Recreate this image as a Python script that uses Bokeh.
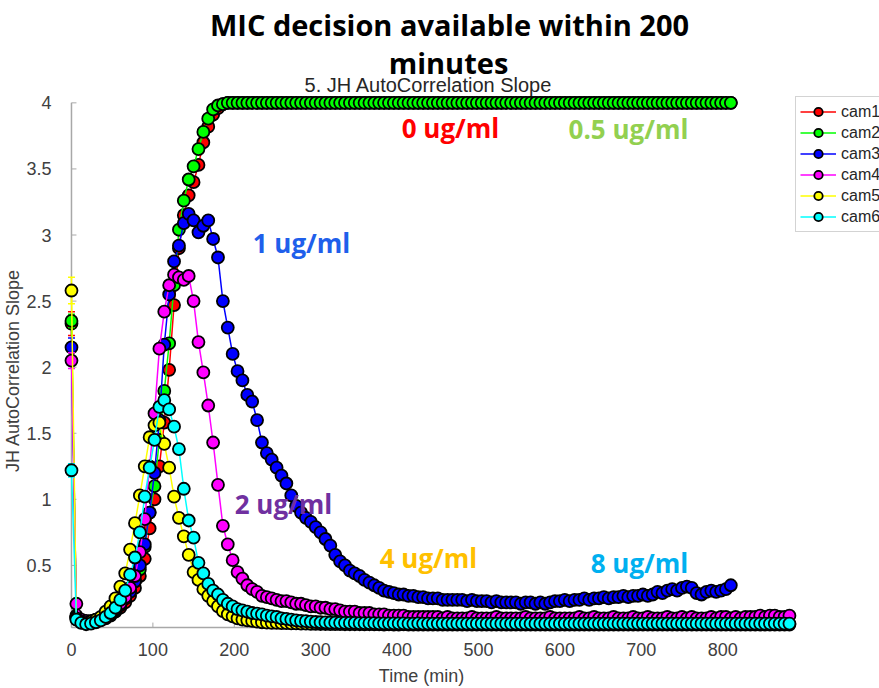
from bokeh.plotting import figure
from bokeh.models import Range1d, Label, Legend, LegendItem, FixedTicker, CustomJSTickFormatter
from bokeh.embed import file_html
from bokeh.resources import INLINE

# ---------------- data ----------------
# sampling times in minutes
time_cam123 = list(range(0, 811, 6))
time_cam456 = list(range(0, 883, 6))

cam1 = [2.33, 0.11, 0.08, 0.07, 0.07, 0.08, 0.09, 0.10, 0.12, 0.15,
        0.18, 0.22, 0.27, 0.33, 0.42, 0.55, 0.78, 1.00, 1.25, 1.58,
        1.98, 2.47, 2.90, 3.15, 3.30, 3.40, 3.53, 3.70, 3.82, 3.91,
        3.96, 3.99, 4.00, 4.00, 4.00, 4.00, 4.00, 4.00, 4.00, 4.00,
        4.00, 4.00, 4.00, 4.00, 4.00, 4.00, 4.00, 4.00, 4.00, 4.00,
        4.00, 4.00, 4.00, 4.00, 4.00, 4.00, 4.00, 4.00, 4.00, 4.00,
        4.00, 4.00, 4.00, 4.00, 4.00, 4.00, 4.00, 4.00, 4.00, 4.00,
        4.00, 4.00, 4.00, 4.00, 4.00, 4.00, 4.00, 4.00, 4.00, 4.00,
        4.00, 4.00, 4.00, 4.00, 4.00, 4.00, 4.00, 4.00, 4.00, 4.00,
        4.00, 4.00, 4.00, 4.00, 4.00, 4.00, 4.00, 4.00, 4.00, 4.00,
        4.00, 4.00, 4.00, 4.00, 4.00, 4.00, 4.00, 4.00, 4.00, 4.00,
        4.00, 4.00, 4.00, 4.00, 4.00, 4.00, 4.00, 4.00, 4.00, 4.00,
        4.00, 4.00, 4.00, 4.00, 4.00, 4.00, 4.00, 4.00, 4.00, 4.00,
        4.00, 4.00, 4.00, 4.00, 4.00, 4.00]

cam2 = [2.35, 0.12, 0.08, 0.07, 0.07, 0.08, 0.09, 0.11, 0.13, 0.16,
        0.20, 0.25, 0.31, 0.38, 0.47, 0.64, 0.90, 1.10, 1.45, 1.82,
        2.18, 2.62, 3.04, 3.26, 3.42, 3.52, 3.65, 3.78, 3.88, 3.95,
        3.98, 3.99, 4.00, 4.00, 4.00, 4.00, 4.00, 4.00, 4.00, 4.00,
        4.00, 4.00, 4.00, 4.00, 4.00, 4.00, 4.00, 4.00, 4.00, 4.00,
        4.00, 4.00, 4.00, 4.00, 4.00, 4.00, 4.00, 4.00, 4.00, 4.00,
        4.00, 4.00, 4.00, 4.00, 4.00, 4.00, 4.00, 4.00, 4.00, 4.00,
        4.00, 4.00, 4.00, 4.00, 4.00, 4.00, 4.00, 4.00, 4.00, 4.00,
        4.00, 4.00, 4.00, 4.00, 4.00, 4.00, 4.00, 4.00, 4.00, 4.00,
        4.00, 4.00, 4.00, 4.00, 4.00, 4.00, 4.00, 4.00, 4.00, 4.00,
        4.00, 4.00, 4.00, 4.00, 4.00, 4.00, 4.00, 4.00, 4.00, 4.00,
        4.00, 4.00, 4.00, 4.00, 4.00, 4.00, 4.00, 4.00, 4.00, 4.00,
        4.00, 4.00, 4.00, 4.00, 4.00, 4.00, 4.00, 4.00, 4.00, 4.00,
        4.00, 4.00, 4.00, 4.00, 4.00, 4.00]

cam3 = [2.15, 0.11, 0.08, 0.07, 0.07, 0.08, 0.09, 0.11, 0.13, 0.16,
        0.20, 0.25, 0.30, 0.38, 0.50, 0.66, 0.90, 1.20, 1.60, 2.17,
        2.55, 2.80, 2.92, 3.09, 3.16, 3.11, 3.02, 3.07, 3.11, 2.97,
        2.83, 2.50, 2.30, 2.10, 1.97, 1.90, 1.79, 1.74, 1.60, 1.43,
        1.35, 1.30, 1.24, 1.18, 1.12, 1.03, 0.95, 0.90, 0.86, 0.83,
        0.79, 0.75, 0.70, 0.65, 0.58, 0.53, 0.50, 0.46, 0.44, 0.42,
        0.39, 0.37, 0.35, 0.33, 0.31, 0.30, 0.29, 0.28, 0.28, 0.27,
        0.27, 0.26, 0.26, 0.25, 0.25, 0.25, 0.24, 0.24, 0.24, 0.24,
        0.24, 0.23, 0.24, 0.23, 0.23, 0.23, 0.22, 0.23, 0.22, 0.22,
        0.22, 0.22, 0.21, 0.22, 0.22, 0.21, 0.22, 0.21, 0.22, 0.23,
        0.23, 0.24, 0.23, 0.24, 0.24, 0.25, 0.24, 0.25, 0.25, 0.26,
        0.25, 0.26, 0.26, 0.27, 0.26, 0.27, 0.27, 0.28, 0.27, 0.28,
        0.30, 0.29, 0.31, 0.32, 0.31, 0.33, 0.34, 0.33, 0.29, 0.28,
        0.30, 0.31, 0.30, 0.31, 0.32, 0.35]

cam4 = [2.05, 0.21, 0.09, 0.08, 0.08, 0.09, 0.10, 0.12, 0.14, 0.17,
        0.21, 0.26, 0.33, 0.42, 0.60, 0.85, 1.25, 1.65, 2.14, 2.42,
        2.62, 2.70, 2.68, 2.66, 2.69, 2.50, 2.19, 1.96, 1.71, 1.43,
        1.11, 0.80, 0.66, 0.54, 0.45, 0.40, 0.35, 0.32, 0.30, 0.27,
        0.26, 0.25, 0.24, 0.23, 0.23, 0.22, 0.21, 0.21, 0.20, 0.19,
        0.19, 0.18, 0.18, 0.17, 0.17, 0.16, 0.15, 0.15, 0.15, 0.14,
        0.14, 0.14, 0.13, 0.13, 0.13, 0.12, 0.12, 0.12, 0.12, 0.11,
        0.11, 0.11, 0.11, 0.11, 0.11, 0.11, 0.10, 0.11, 0.10, 0.10,
        0.10, 0.10, 0.11, 0.10, 0.10, 0.10, 0.10, 0.11, 0.10, 0.10,
        0.10, 0.10, 0.10, 0.11, 0.10, 0.10, 0.10, 0.10, 0.11, 0.10,
        0.10, 0.10, 0.10, 0.10, 0.11, 0.10, 0.10, 0.11, 0.10, 0.10,
        0.10, 0.11, 0.10, 0.10, 0.10, 0.11, 0.10, 0.10, 0.11, 0.10,
        0.10, 0.10, 0.11, 0.10, 0.10, 0.11, 0.10, 0.11, 0.10, 0.10,
        0.10, 0.11, 0.10, 0.11, 0.11, 0.10, 0.11, 0.10, 0.11, 0.11,
        0.11, 0.12, 0.11, 0.12, 0.12, 0.11, 0.11, 0.12]

cam5 = [2.58, 0.10, 0.07, 0.065, 0.075, 0.09, 0.11, 0.15, 0.19, 0.25,
        0.34, 0.44, 0.62, 0.82, 1.03, 1.25, 1.47, 1.56, 1.58, 1.42,
        1.24, 1.02, 0.86, 0.72, 0.58, 0.45, 0.39, 0.32, 0.27, 0.23,
        0.19, 0.155, 0.13, 0.115, 0.10, 0.09, 0.085, 0.08, 0.075, 0.07,
        0.068, 0.066, 0.065, 0.064, 0.063, 0.062, 0.061, 0.060, 0.059, 0.058,
        0.058, 0.057, 0.057, 0.056, 0.056, 0.056, 0.055, 0.055, 0.055, 0.055,
        0.054, 0.055, 0.054, 0.054, 0.053, 0.054, 0.053, 0.053, 0.054, 0.053,
        0.053, 0.053, 0.052, 0.053, 0.053, 0.052, 0.053, 0.052, 0.052, 0.053,
        0.052, 0.052, 0.053, 0.052, 0.052, 0.052, 0.053, 0.052, 0.052, 0.052,
        0.052, 0.053, 0.052, 0.052, 0.052, 0.052, 0.053, 0.052, 0.052, 0.052,
        0.052, 0.052, 0.053, 0.052, 0.052, 0.052, 0.052, 0.053, 0.052, 0.052,
        0.052, 0.052, 0.052, 0.053, 0.052, 0.052, 0.052, 0.052, 0.053, 0.052,
        0.052, 0.053, 0.052, 0.052, 0.052, 0.053, 0.052, 0.052, 0.052, 0.053,
        0.052, 0.052, 0.053, 0.052, 0.052, 0.053, 0.052, 0.052, 0.053, 0.052,
        0.053, 0.052, 0.052, 0.053, 0.052, 0.053, 0.052, 0.053]

cam6 = [1.22, 0.09, 0.065, 0.055, 0.06, 0.07, 0.085, 0.11, 0.14, 0.18,
        0.24, 0.31, 0.43, 0.56, 0.75, 1.02, 1.24, 1.45, 1.70, 1.75,
        1.68, 1.55, 1.38, 1.08, 0.84, 0.71, 0.52, 0.44, 0.36, 0.31,
        0.28, 0.24, 0.21, 0.19, 0.17, 0.16, 0.15, 0.14, 0.135, 0.13,
        0.12, 0.115, 0.11, 0.10, 0.095, 0.09, 0.085, 0.08, 0.078, 0.075,
        0.072, 0.070, 0.069, 0.068, 0.067, 0.066, 0.066, 0.065, 0.065, 0.064,
        0.064, 0.063, 0.063, 0.062, 0.062, 0.062, 0.061, 0.061, 0.061, 0.060,
        0.060, 0.061, 0.060, 0.060, 0.059, 0.060, 0.060, 0.059, 0.060, 0.059,
        0.059, 0.060, 0.059, 0.059, 0.060, 0.059, 0.059, 0.059, 0.060, 0.059,
        0.059, 0.059, 0.060, 0.059, 0.059, 0.059, 0.059, 0.060, 0.059, 0.059,
        0.059, 0.060, 0.059, 0.059, 0.059, 0.060, 0.059, 0.059, 0.059, 0.060,
        0.059, 0.059, 0.059, 0.060, 0.059, 0.059, 0.060, 0.059, 0.059, 0.059,
        0.060, 0.059, 0.059, 0.060, 0.059, 0.059, 0.059, 0.060, 0.059, 0.059,
        0.059, 0.060, 0.059, 0.059, 0.060, 0.059, 0.059, 0.060, 0.059, 0.059,
        0.059, 0.060, 0.059, 0.060, 0.060, 0.059, 0.060, 0.060]

# error of the first sample (the only visible error bars)
first_err = [0.09, 0.05, 0.07, 0.06, 0.10, 0.05]

series_names = ["cam1", "cam2", "cam3", "cam4", "cam5", "cam6"]
series_values = [cam1, cam2, cam3, cam4, cam5, cam6]
series_times = [time_cam123, time_cam123, time_cam123, time_cam456, time_cam456, time_cam456]
series_colors = ["#ff0000", "#00ff00", "#0000ff", "#ff00ff", "#ffff00", "#00ffff"]

x_ticks = [0, 100, 200, 300, 400, 500, 600, 700, 800]
y_ticks = [0.5, 1, 1.5, 2, 2.5, 3, 3.5, 4]
x_limits = (0, 885)      # extent of the MATLAB axes
y_limits = (0.03, 4.0)

for tt, vv in zip(series_times, series_values):
    assert len(tt) == len(vv), (len(tt), len(vv))

# ---------------- layout constants (pixels) ----------------
W, H = 879, 688
left_b, bottom_b = 61, 49           # room for tick labels / axis titles
pad_px = 8                          # frame reaches a little beyond the axes so markers are not clipped
px_per_min = 0.816
px_per_unit = 133.0
x_start = x_limits[0] - pad_px / px_per_min
x_end = x_start + (W - left_b) / px_per_min
y_start = y_limits[0] - pad_px / px_per_unit
y_end = y_start + (H - bottom_b) / px_per_unit
tick_len_x = 5 / px_per_min
tick_len_y = 5 / px_per_unit

p = figure(width=W, height=H, output_backend="svg", toolbar_location=None, title=None,
           x_range=Range1d(x_start, x_end), y_range=Range1d(y_start, y_end),
           min_border_left=left_b, min_border_right=0, min_border_top=0,
           min_border_bottom=bottom_b,
           background_fill_color="white", border_fill_color="white")
p.outline_line_color = None
p.xgrid.visible = False
p.ygrid.visible = False

axis_col = "#a8a8a8"
txt_col = "#404040"
fmt = CustomJSTickFormatter(code="return tick.toString();")
p.xaxis.ticker = FixedTicker(ticks=x_ticks)
p.yaxis.ticker = FixedTicker(ticks=y_ticks)
nb = "\u00a0"
for ax in (p.xaxis[0], p.yaxis[0]):
    ax.formatter = fmt
    ax.axis_line_color = None
    ax.major_tick_line_color = None
    ax.minor_tick_line_color = None
    ax.major_label_text_font = "Liberation Sans"
    ax.major_label_text_font_size = "18px"
    ax.major_label_text_color = txt_col
    ax.axis_label_text_font = "Liberation Sans"
    ax.axis_label_text_font_size = "18px"
    ax.axis_label_text_font_style = "normal"
    ax.axis_label_text_color = txt_col
p.xaxis.major_label_standoff = 1
p.yaxis.major_label_standoff = 6
# trailing no-break spaces centre the titles on the MATLAB axes instead of the whole frame
p.xaxis.axis_label = "Time (min)" + nb * 20
p.xaxis.axis_label_standoff = 7
p.yaxis.axis_label = "JH AutoCorrelation Slope" + nb * 21
p.yaxis.axis_label_standoff = 0

# axis lines and inward ticks over the MATLAB axes extent
p.segment(x0=[x_limits[0]], y0=[y_limits[0]], x1=[x_limits[0]], y1=[y_limits[1]],
          line_color=axis_col, line_width=1.5)
p.segment(x0=[x_limits[0]], y0=[y_limits[0]], x1=[x_limits[1]], y1=[y_limits[0]],
          line_color=axis_col, line_width=1.5)
p.segment(x0=[x_limits[0]] * len(y_ticks), y0=y_ticks,
          x1=[x_limits[0] + tick_len_x] * len(y_ticks), y1=y_ticks,
          line_color=axis_col, line_width=1)
p.segment(x0=x_ticks, y0=[y_limits[0]] * len(x_ticks),
          x1=x_ticks, y1=[y_limits[0] + tick_len_y] * len(x_ticks),
          line_color=axis_col, line_width=1)

items = []
for name, tt, vv, col, e in zip(series_names, series_times, series_values, series_colors, first_err):
    p.segment(x0=[tt[0]], y0=[vv[0] - e], x1=[tt[0]], y1=[vv[0] + e], line_color=col, line_width=1.5)
    p.scatter(x=[tt[0], tt[0]], y=[vv[0] - e, vv[0] + e], marker="dash", size=7,
              line_color=col, line_width=1.5)
    lr = p.line(tt, vv, line_color=col, line_width=1.5)
    sr = p.scatter(tt, vv, marker="circle", size=12, fill_color=col,
                   line_color="black", line_width=1.8)
    items.append(LegendItem(label=name, renderers=[lr, sr]))

# frame origin in page pixels: (left_b, H - bottom_b)
fx0, fy0 = left_b, H - bottom_b

legend = Legend(items=items, location=(793 - fx0, fy0 - 236), orientation="vertical",
                padding=4, spacing=0, margin=0, glyph_width=36, glyph_height=21,
                label_height=21, label_standoff=5,
                label_text_font="Liberation Sans", label_text_font_size="16px",
                label_text_color="#262626", border_line_color=axis_col,
                border_line_width=1, background_fill_color="white", background_fill_alpha=1.0)
p.add_layout(legend)


def add_text(text, px, py, size, color, font, style="normal"):
    # px, py: wanted centre in page pixels (from the top-left corner)
    p.add_layout(Label(x=px - fx0, y=fy0 - py, x_units="screen", y_units="screen", text=text,
                       text_font=font, text_font_size=size, text_color=color,
                       text_font_style=style, text_align="center", text_baseline="middle"))


add_text("MIC decision available within 200", 447, 28, "29px", "black", "Open Sans", "bold")
add_text("minutes", 446, 66, "29px", "black", "Open Sans", "bold")
add_text("5. JH AutoCorrelation Slope", 426, 88, "20px", "#262626", "Liberation Sans")
add_text("0 ug/ml", 448, 131, "26px", "#ff0000", "Open Sans", "bold")
add_text("0.5 ug/ml", 626, 132, "26px", "#92d050", "Open Sans", "bold")
add_text("1 ug/ml", 299, 246, "26px", "#1f5feb", "Open Sans", "bold")
add_text("2 ug/ml", 281, 507, "26px", "#7030a0", "Open Sans", "bold")
add_text("4 ug/ml", 426, 561, "26px", "#ffc000", "Open Sans", "bold")
add_text("8 ug/ml", 637, 566, "26px", "#00b0f0", "Open Sans", "bold")

open("out.html", "w").write(file_html(p, INLINE))
